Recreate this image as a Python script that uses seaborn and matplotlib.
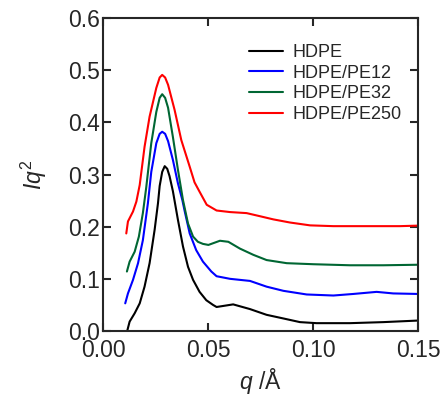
import numpy as np
import pandas as pd
import matplotlib
matplotlib.use("Agg")
import matplotlib.pyplot as plt
import seaborn as sns

sns.set_theme(style="ticks")
plt.rcParams['font.family'] = ['Liberation Sans', 'DejaVu Sans']
plt.rcParams['mathtext.fontset'] = 'custom'
plt.rcParams['mathtext.rm'] = 'Liberation Sans'
plt.rcParams['mathtext.it'] = 'Liberation Sans:italic'

series_names = ["HDPE", "HDPE/PE12", "HDPE/PE32", "HDPE/PE250"]
series_colors = ["#000000", "#0000ff", "#006633", "#ff0000"]

q_hdpe = [0.0116, 0.0127, 0.0151, 0.0175, 0.0198, 0.0222, 0.0246, 0.0262, 0.027, 0.0282,
          0.0294, 0.0306, 0.0317, 0.0333, 0.0357, 0.0381, 0.0405, 0.0429, 0.046, 0.0492,
          0.0524, 0.0541, 0.062, 0.070, 0.0779, 0.0859, 0.0938, 0.1017, 0.1176, 0.1335, 0.15]
v_hdpe = [0.001, 0.018, 0.034, 0.053, 0.085, 0.130, 0.194, 0.245, 0.278, 0.305,
          0.316, 0.311, 0.297, 0.268, 0.213, 0.162, 0.123, 0.098, 0.075, 0.059,
          0.050, 0.046, 0.051, 0.042, 0.031, 0.024, 0.017, 0.015, 0.015, 0.017, 0.020]

q_pe12 = [0.0106, 0.0119, 0.0143, 0.0167, 0.019, 0.0214, 0.023, 0.0254, 0.0270, 0.0282,
          0.0296, 0.031, 0.0333, 0.0357, 0.0378, 0.0389, 0.0413, 0.0444, 0.0476, 0.0516,
          0.0541, 0.0605, 0.070, 0.0779, 0.0859, 0.097, 0.1097, 0.1192, 0.1303, 0.1382, 0.15]
v_pe12 = [0.053, 0.072, 0.098, 0.130, 0.174, 0.245, 0.305, 0.360, 0.378, 0.382,
          0.378, 0.364, 0.328, 0.283, 0.251, 0.230, 0.187, 0.155, 0.133, 0.114,
          0.105, 0.100, 0.096, 0.085, 0.077, 0.070, 0.068, 0.071, 0.075, 0.072, 0.071]

q_pe32 = [0.0114, 0.0127, 0.0151, 0.0171, 0.019, 0.0206, 0.023, 0.0254, 0.0270, 0.0282,
          0.0296, 0.031, 0.0333, 0.0357, 0.0381, 0.0405, 0.0429, 0.0452, 0.0476, 0.0502,
          0.0557, 0.0597, 0.0652, 0.0716, 0.0779, 0.0875, 0.1002, 0.1176, 0.1335, 0.15]
v_pe32 = [0.114, 0.133, 0.152, 0.181, 0.226, 0.275, 0.360, 0.420, 0.447, 0.454,
          0.447, 0.428, 0.372, 0.309, 0.251, 0.206, 0.181, 0.171, 0.167, 0.165,
          0.173, 0.171, 0.158, 0.146, 0.136, 0.130, 0.128, 0.126, 0.126, 0.127]

q_pe250 = [0.0111, 0.0119, 0.0143, 0.0159, 0.0175, 0.0198, 0.0222, 0.0254, 0.0270, 0.0282,
           0.0296, 0.031, 0.0341, 0.0373, 0.0413, 0.0436, 0.046, 0.0494, 0.0541, 0.0605,
           0.0684, 0.0748, 0.0811, 0.089, 0.0986, 0.1097, 0.1256, 0.1414, 0.15]
v_pe250 = [0.187, 0.210, 0.229, 0.248, 0.280, 0.353, 0.411, 0.466, 0.486, 0.491,
           0.486, 0.472, 0.424, 0.366, 0.315, 0.285, 0.267, 0.242, 0.231, 0.228,
           0.226, 0.220, 0.214, 0.208, 0.2025, 0.201, 0.201, 0.201, 0.202]

frames = []
for name, q, v in zip(series_names, [q_hdpe, q_pe12, q_pe32, q_pe250],
                      [v_hdpe, v_pe12, v_pe32, v_pe250]):
    frames.append(pd.DataFrame({"q": q, "Iq2": v, "sample": name}))
df = pd.concat(frames, ignore_index=True)

fig = plt.figure(figsize=(4.4, 4.01), dpi=100)
ax = fig.add_axes([0.234, 0.1746, 0.716, 0.7804])

sns.lineplot(data=df, x="q", y="Iq2", hue="sample", hue_order=series_names,
             palette=series_colors, linewidth=1.5, ax=ax, sort=False, estimator=None)

ax.set_xlim(0, 0.15)
ax.set_ylim(0, 0.6)
ax.set_xticks([0.0, 0.05, 0.10, 0.15])
ax.set_xticklabels(["0.00", "0.05", "0.10", "0.15"])
ax.set_yticks([0.0, 0.1, 0.2, 0.3, 0.4, 0.5, 0.6])
ax.set_yticklabels(["0.0", "0.1", "0.2", "0.3", "0.4", "0.5", "0.6"])
ax.tick_params(direction="in", length=6, width=1.5, labelsize=16.5,
               top=True, right=True)
ax.tick_params(axis="y", pad=2)
ax.tick_params(axis="x", pad=6)
for s in ax.spines.values():
    s.set_linewidth(1.5)
    s.set_visible(True)

ax.set_xlabel(r"$\mathit{q}$ /Å", fontsize=16.5, labelpad=3)
ax.set_ylabel(r"$\mathit{Iq}^{2}$", fontsize=16.5, labelpad=14)

leg = ax.legend(loc="upper left", frameon=False, fontsize=13, handlelength=1.9,
                handletextpad=0.5, labelspacing=0.2, borderaxespad=0,
                bbox_to_anchor=(0.44, 0.94))

fig.savefig("out.png", dpi=100)
